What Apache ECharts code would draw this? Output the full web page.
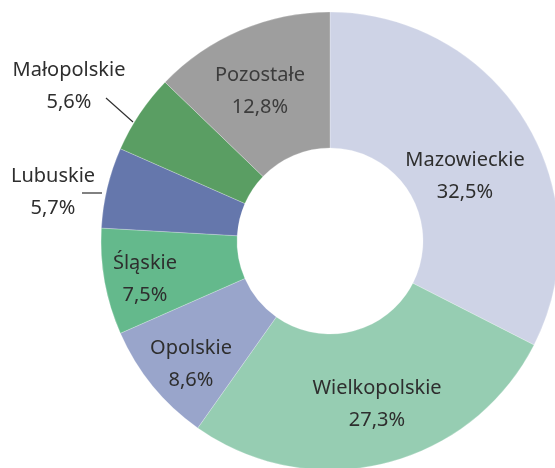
<!DOCTYPE html>
<html>
<head>
<meta charset="utf-8">
<script src="https://cdn.jsdelivr.net/npm/echarts@6/dist/echarts.min.js"></script>
<style>
  html, body { margin: 0; padding: 0; background: #fff; }
  #chart { width: 555px; height: 468px; }
</style>
</head>
<body>
<div id="chart"></div>
<script>
  const regions = ['Mazowieckie', 'Wielkopolskie', 'Opolskie', 'Śląskie', 'Lubuskie', 'Małopolskie', 'Pozostałe'];
  const shares = [32.5, 27.3, 8.6, 7.5, 5.7, 5.6, 12.8];
  const sliceColors = ['#ced3e6', '#96cdb2', '#99a5cb', '#64b98c', '#6577ac', '#5a9e63', '#9e9e9e'];
  const outsideLabels = ['Lubuskie', 'Małopolskie'];

  // label block centres, tuned to the reference
  const labelSpots = {
    Mazowieckie: { x: 465, y: 176 },
    Wielkopolskie: { x: 377, y: 404 },
    Opolskie: { x: 191, y: 364 },
    'Śląskie': { x: 145, y: 279 },
    Lubuskie: { x: 53, y: 192, line: [[102, 193], [82, 193], [82, 193]] },
    'Małopolskie': { x: 69, y: 86, line: [[133, 122], [106, 98], [106, 98]] },
    'Pozostałe': { x: 260, y: 91 },
  };

  const chart = echarts.init(document.getElementById('chart'));

  const data = regions.map((name, i) => {
    const outside = outsideLabels.includes(name);
    return {
      name,
      value: shares[i],
      itemStyle: { color: sliceColors[i] },
      label: {
        position: outside ? 'outside' : 'inside',
        color: name === 'Pozostałe' ? '#3c3c3c' : '#2e2e2e',
      },
      labelLine: { show: outside },
    };
  });

  chart.setOption({
    animation: false,
    series: [
      {
        type: 'pie',
        center: [330, 241],
        radius: [93, 229],
        startAngle: 90,
        clockwise: true,
        data,
        itemStyle: { borderColor: 'rgba(255,255,255,0.6)', borderWidth: 0.4 },
        label: {
          fontFamily: 'Noto Sans, sans-serif',
          fontSize: 20,
          lineHeight: 32,
          align: 'center',
          overflow: 'none',
          formatter: (p) => `${p.name}\n${p.value.toFixed(1).replace('.', ',')}%`,
        },
        labelLine: {
          lineStyle: { color: '#2e2e2e', width: 1.2 },
        },
        labelLayout(params) {
          const spot = labelSpots[regions[params.dataIndex]];
          if (!spot) return {};
          const out = {
            x: spot.x,
            y: spot.y,
            align: 'center',
            verticalAlign: 'middle',
          };
          if (spot.line) out.labelLinePoints = spot.line;
          return out;
        },
      },
    ],
  });
</script>
</body>
</html>
